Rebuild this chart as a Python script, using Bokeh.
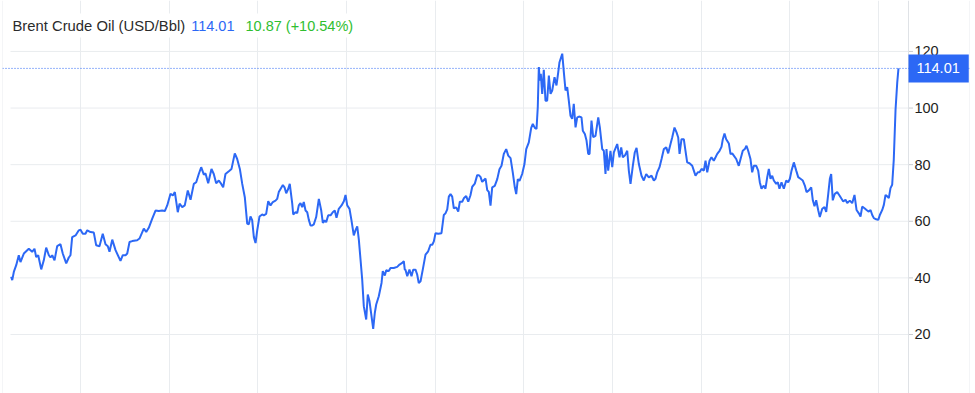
from bokeh.plotting import figure
from bokeh.models import FixedTicker, Span, Label, Range1d
from bokeh.core.properties import value
from bokeh.embed import file_html
from bokeh.resources import INLINE

# ---- data (decimal year, USD/Bbl) ----
t = [2016.218, 2016.230, 2016.248, 2016.275, 2016.304, 2016.323, 2016.361, 2016.417, 2016.455, 2016.481,
     2016.500, 2016.523, 2016.557, 2016.586, 2016.613, 2016.643, 2016.662, 2016.681, 2016.707, 2016.737,
     2016.774, 2016.800, 2016.839, 2016.868, 2016.887, 2016.906, 2016.944, 2016.981, 2017.000, 2017.026,
     2017.056, 2017.076, 2017.113, 2017.150, 2017.177, 2017.214, 2017.251, 2017.282, 2017.308, 2017.327,
     2017.358, 2017.395, 2017.451, 2017.477, 2017.508, 2017.527, 2017.553, 2017.583, 2017.639, 2017.665,
     2017.714, 2017.741, 2017.770, 2017.809, 2017.846, 2017.883, 2017.921, 2017.951, 2017.978, 2018.015,
     2018.041, 2018.064, 2018.097, 2018.117, 2018.147, 2018.176, 2018.210, 2018.241, 2018.278, 2018.305,
     2018.334, 2018.361, 2018.391, 2018.410, 2018.440, 2018.477, 2018.503, 2018.530, 2018.560, 2018.587,
     2018.609, 2018.635, 2018.673, 2018.703, 2018.740, 2018.767, 2018.797, 2018.824, 2018.853, 2018.880,
     2018.898, 2018.917, 2018.936, 2018.955, 2018.974, 2018.993, 2019.019, 2019.049, 2019.067, 2019.094,
     2019.117, 2019.143, 2019.169, 2019.199, 2019.218, 2019.236, 2019.256, 2019.282, 2019.301, 2019.320,
     2019.342, 2019.360, 2019.388, 2019.399, 2019.425, 2019.444, 2019.462, 2019.481, 2019.500, 2019.518,
     2019.538, 2019.557, 2019.575, 2019.594, 2019.613, 2019.631, 2019.658, 2019.688, 2019.715, 2019.733,
     2019.752, 2019.771, 2019.794, 2019.820, 2019.845, 2019.868, 2019.887, 2019.913, 2019.944, 2019.970,
     2019.989, 2020.008, 2020.034, 2020.056, 2020.082, 2020.101, 2020.121, 2020.139, 2020.158, 2020.177,
     2020.195, 2020.222, 2020.240, 2020.259, 2020.282, 2020.301, 2020.319, 2020.335, 2020.364, 2020.395,
     2020.409, 2020.432, 2020.448, 2020.477, 2020.496, 2020.533, 2020.572, 2020.598, 2020.628, 2020.646,
     2020.657, 2020.665, 2020.685, 2020.710, 2020.733, 2020.752, 2020.778, 2020.797, 2020.815, 2020.835,
     2020.860, 2020.891, 2020.921, 2020.947, 2020.967, 2020.985, 2021.004, 2021.034, 2021.071, 2021.097,
     2021.116, 2021.136, 2021.154, 2021.173, 2021.192, 2021.210, 2021.237, 2021.260, 2021.278, 2021.305,
     2021.323, 2021.350, 2021.373, 2021.398, 2021.418, 2021.447, 2021.474, 2021.492, 2021.511, 2021.530,
     2021.548, 2021.568, 2021.587, 2021.605, 2021.624, 2021.643, 2021.672, 2021.700, 2021.725, 2021.748,
     2021.774, 2021.801, 2021.824, 2021.850, 2021.875, 2021.898, 2021.914, 2021.932, 2021.951, 2021.981,
     2022.007, 2022.027, 2022.056, 2022.083, 2022.101, 2022.124, 2022.143, 2022.157, 2022.169, 2022.180,
     2022.191, 2022.207, 2022.225, 2022.244, 2022.263, 2022.282, 2022.301, 2022.320, 2022.346, 2022.368,
     2022.388, 2022.402, 2022.433, 2022.451, 2022.470, 2022.489, 2022.507, 2022.526, 2022.545, 2022.563,
     2022.583, 2022.602, 2022.628, 2022.650, 2022.665, 2022.688, 2022.707, 2022.726, 2022.741, 2022.763,
     2022.782, 2022.808, 2022.839, 2022.857, 2022.884, 2022.902, 2022.921, 2022.932, 2022.951, 2022.977,
     2022.997, 2023.015, 2023.053, 2023.079, 2023.098, 2023.116, 2023.139, 2023.166, 2023.184, 2023.203,
     2023.229, 2023.251, 2023.271, 2023.297, 2023.327, 2023.353, 2023.380, 2023.409, 2023.440, 2023.466,
     2023.485, 2023.504, 2023.530, 2023.553, 2023.579, 2023.606, 2023.628, 2023.654, 2023.673, 2023.699,
     2023.722, 2023.741, 2023.756, 2023.778, 2023.804, 2023.823, 2023.842, 2023.868, 2023.899, 2023.917,
     2023.936, 2023.962, 2023.981, 2024.004, 2024.030, 2024.049, 2024.068, 2024.094, 2024.116, 2024.142,
     2024.162, 2024.181, 2024.207, 2024.229, 2024.244, 2024.263, 2024.282, 2024.312, 2024.331, 2024.350,
     2024.368, 2024.395, 2024.424, 2024.444, 2024.469, 2024.492, 2024.511, 2024.530, 2024.556, 2024.575,
     2024.594, 2024.621, 2024.643, 2024.661, 2024.680, 2024.706, 2024.725, 2024.745, 2024.763, 2024.782,
     2024.801, 2024.819, 2024.846, 2024.864, 2024.883, 2024.906, 2024.932, 2024.959, 2024.981, 2025.000,
     2025.019, 2025.045, 2025.072, 2025.094, 2025.120, 2025.146, 2025.169, 2025.188, 2025.214, 2025.241,
     2025.259, 2025.278, 2025.297, 2025.320, 2025.338, 2025.365, 2025.391, 2025.410, 2025.433, 2025.451,
     2025.466, 2025.484, 2025.507, 2025.534, 2025.560, 2025.602, 2025.628, 2025.647, 2025.676, 2025.703,
     2025.729, 2025.752, 2025.778, 2025.797, 2025.816, 2025.842, 2025.865, 2025.890, 2025.910, 2025.929,
     2025.947, 2025.974, 2025.997, 2026.015, 2026.042, 2026.060, 2026.079, 2026.098, 2026.116, 2026.135,
     2026.154, 2026.172, 2026.192, 2026.211, 2026.225]

price = [40.4, 39.2, 42.1, 44.5, 48.0, 45.6, 48.6, 50.3, 49.2, 50.3,
         47.4, 48.0, 43.0, 46.2, 50.7, 48.0, 47.2, 48.0, 46.2, 51.2,
         51.9, 48.6, 45.1, 47.2, 48.0, 54.4, 55.0, 56.8, 57.0, 55.6,
         55.6, 56.8, 56.2, 56.0, 51.5, 51.2, 55.6, 51.9, 51.2, 49.2,
         53.5, 49.8, 46.0, 48.0, 48.0, 48.6, 52.7, 53.0, 53.3, 53.9,
         57.4, 56.2, 57.7, 60.9, 63.8, 63.6, 63.8, 63.6, 65.6, 69.7,
         69.1, 70.3, 63.2, 66.2, 65.0, 65.6, 70.9, 67.6, 73.2, 73.8,
         76.7, 79.1, 76.5, 76.9, 73.4, 78.5, 76.7, 73.4, 74.4, 73.2,
         72.0, 76.7, 77.7, 78.5, 84.0, 82.0, 78.5, 73.2, 68.5, 59.2,
         58.9, 61.7, 60.4, 54.4, 52.3, 56.8, 61.7, 62.4, 62.1, 62.6,
         67.1, 65.6, 66.8, 67.3, 67.9, 70.3, 71.4, 72.8, 72.0, 69.9,
         71.4, 73.2, 66.2, 62.4, 63.2, 62.9, 65.6, 66.4, 65.0, 66.8,
         63.8, 63.2, 60.5, 58.5, 58.5, 58.9, 61.5, 67.9, 63.8, 59.4,
         60.3, 59.7, 62.1, 62.1, 63.2, 63.8, 61.2, 64.4, 65.6, 67.1,
         69.3, 65.6, 64.4, 60.3, 55.0, 56.8, 58.2, 53.5, 46.5, 39.4,
         30.0, 25.3, 34.1, 31.8, 26.5, 22.0, 27.6, 30.6, 33.5, 38.2,
         42.4, 40.8, 42.7, 42.4, 43.5, 43.5, 43.9, 44.7, 45.3, 45.9,
         42.9, 42.9, 40.6, 42.9, 40.6, 42.9, 42.9, 41.2, 38.2, 38.8,
         42.9, 48.2, 49.4, 51.7, 51.7, 52.9, 55.8, 55.6, 55.8, 62.2,
         62.8, 64.2, 68.7, 69.6, 68.7, 64.6, 64.9, 63.4, 66.9, 66.9,
         68.1, 68.9, 66.9, 69.2, 72.2, 73.3, 76.3, 76.3, 75.7, 73.9,
         74.5, 75.1, 71.0, 70.4, 65.5, 72.0, 72.5, 74.9, 78.4, 79.6,
         83.8, 85.5, 83.2, 82.3, 77.3, 72.0, 69.6, 74.9, 74.3, 76.7,
         80.2, 85.5, 87.9, 93.0, 94.4, 93.0, 92.6, 100.3, 114.5, 109.7,
         112.1, 105.0, 113.5, 102.6, 102.6, 111.5, 105.0, 106.2, 110.9, 108.0,
         112.7, 116.2, 119.2, 112.7, 106.2, 107.4, 102.6, 97.3, 96.2, 101.5,
         93.2, 96.7, 97.0, 96.7, 92.0, 90.8, 88.5, 83.8, 83.8, 95.6,
         89.7, 90.2, 96.7, 93.2, 85.5, 84.9, 76.7, 85.5, 77.9, 84.9,
         79.1, 84.3, 87.3, 82.6, 86.1, 82.6, 83.2, 84.9, 77.9, 73.2,
         79.6, 84.3, 85.9, 80.2, 76.1, 74.4, 76.7, 75.5, 76.1, 74.4,
         75.0, 77.3, 79.1, 82.0, 85.5, 86.1, 84.0, 87.3, 89.6, 93.1,
         91.4, 89.6, 83.8, 89.0, 89.0, 84.9, 80.8, 80.5, 79.6, 77.9,
         76.1, 77.3, 77.3, 78.5, 77.9, 81.4, 77.3, 81.4, 82.6, 81.4,
         82.6, 83.8, 84.9, 86.3, 89.0, 91.0, 89.0, 87.5, 83.7, 84.0,
         83.2, 82.0, 79.6, 82.0, 84.9, 85.5, 86.7, 84.9, 82.0, 77.3,
         79.6, 79.6, 77.9, 73.8, 71.5, 72.6, 71.5, 75.6, 78.5, 75.0,
         76.1, 74.4, 73.2, 73.8, 71.5, 73.8, 71.5, 74.4, 73.8, 75.0,
         77.9, 80.8, 77.9, 75.6, 75.0, 74.4, 72.6, 70.3, 70.9, 72.0,
         67.4, 65.3, 67.4, 63.9, 61.5, 64.4, 65.0, 63.3, 69.7, 75.0,
         76.7, 67.4, 69.7, 70.3, 69.1, 67.0, 67.6, 66.4, 67.3, 66.4,
         69.3, 64.0, 62.8, 61.7, 65.2, 64.6, 64.0, 63.4, 64.0, 62.2,
         61.1, 60.7, 60.5, 62.2, 64.0, 65.8, 69.3, 68.8, 68.2, 71.7,
         72.9, 81.8, 99.5, 109.0, 114.01]

year_ticks = [2017, 2018, 2019, 2020, 2021, 2022, 2023, 2024, 2025, 2026]
price_ticks = [20, 40, 60, 80, 100, 120]
price_tick_labels = [str(v) for v in price_ticks]

title_name = "Brent Crude Oil (USD/Bbl)"
last_price = "114.01"
change_text = "10.87 (+10.54%)"

BLUE = "#2c68f5"
GREEN = "#30be30"
GRID = "#e9ecef"
AXIS = "#dfe2e6"
FONT = "Liberation Sans"

# horizontal scale: pixels per year, and the edges of the drawing area
PX_YEAR = 88.67
x_start = 2016.1203      # left edge of the chart area
grid_left = 2016.2106    # where price gridlines begin
axis_x = 2026.338        # price-scale line
x_end = 2027.026         # right border of the widget

p = figure(width=975, height=393, output_backend="svg", toolbar_location=None,
           x_range=Range1d(x_start, x_end), y_range=Range1d(-0.85, 138.0),
           x_axis_location=None, y_axis_location=None,
           min_border_left=2, min_border_right=6, min_border_top=0, min_border_bottom=0)
p.outline_line_color = None
p.background_fill_color = "white"
p.border_fill_color = "white"

p.xgrid.ticker = FixedTicker(ticks=year_ticks)
p.xgrid.grid_line_color = GRID
p.ygrid.visible = False

# price gridlines (stop at the price scale)
p.segment(x0=[grid_left] * len(price_ticks), x1=[axis_x] * len(price_ticks),
          y0=price_ticks, y1=price_ticks, line_color=GRID, line_width=1)

# borders and price-scale line
p.add_layout(Span(location=x_start, dimension="height", line_color=GRID, line_width=1))
p.add_layout(Span(location=x_end, dimension="height", line_color=GRID, line_width=1))
p.add_layout(Span(location=axis_x, dimension="height", line_color=AXIS, line_width=1))

# tick marks + labels of the price scale
p.segment(x0=[axis_x] * len(price_ticks), x1=[axis_x + 4.5 / PX_YEAR] * len(price_ticks),
          y0=price_ticks, y1=price_ticks, line_color="#c9ccd0", line_width=1)
p.text(x=[axis_x] * len(price_ticks), y=price_ticks, text=price_tick_labels,
       x_offset=6, text_font=value(FONT), text_font_size="14.5px",
       text_baseline="middle", text_align="left", text_color="#1e1e1e")

p.line(t, price, line_color=BLUE, line_width=2)

p.add_layout(Span(location=price[-1], dimension="width", line_color=BLUE,
                  line_dash="1 2", line_width=1))

p.add_layout(Label(x=axis_x, y=price[-1], text=last_price, text_color="white",
                   text_font=FONT, text_font_size="14.5px", text_baseline="middle",
                   text_align="left", background_fill_color=BLUE,
                   padding=dict(left=8, right=9, top=9, bottom=9)))

# header
title_y = 393 - 25
for txt, col, xs, fs in [(title_name, "#2b2b2b", 6, "14.8px"),
                         (last_price, BLUE, 184.7, "14.5px"),
                         (change_text, GREEN, 239, "14.5px")]:
    p.add_layout(Label(x=xs, y=title_y, x_units="screen", y_units="screen", text=txt,
                       text_color=col, text_font=FONT, text_font_size=fs,
                       text_baseline="middle", text_align="left",
                       background_fill_color="white", padding=4))

open("out.html", "w").write(file_html(p, INLINE))
